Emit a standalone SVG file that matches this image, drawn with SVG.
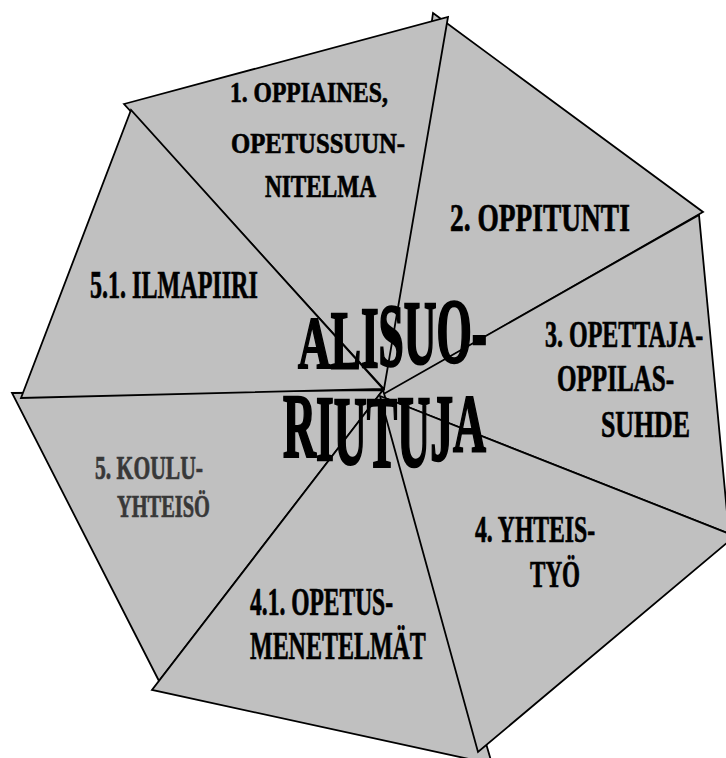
<svg xmlns="http://www.w3.org/2000/svg" width="726" height="758" viewBox="0 0 726 758">
<style>
.seg{fill:#c0c0c0;stroke:#000;stroke-width:1.8;stroke-linejoin:miter}
.lb{font-family:"Liberation Serif","DejaVu Serif",serif;font-weight:bold;fill:#000;stroke:#000;stroke-width:0.7}
.gr{fill:#383838;stroke:#383838}
.big{font-family:"Liberation Serif","DejaVu Serif",serif;font-weight:bold;fill:#000;stroke:#000;stroke-width:2.6}
</style>
<rect width="726" height="758" fill="#fff"/>
<g id="connectors"/>
<g id="n2"><polygon class="seg" points="433,13 703,212 380,397"/>
<text class="lb" font-size="40" transform="translate(450,231) scale(0.686,1)">2. OPPITUNTI</text></g>
<g id="n1"><polygon class="seg" points="124,104 448,17 384,389"/>
<text class="lb" font-size="30" transform="translate(230,102) scale(0.786,1)">1. OPPIAINES,</text>
<text class="lb" font-size="30" transform="translate(231,153) scale(0.822,1)">OPETUSSUUN-</text>
<text class="lb" font-size="31" transform="translate(265,197) scale(0.749,1)">NITELMA</text></g>
<g id="n3"><polygon class="seg" points="699,215 729,533.6 380,396"/>
<text class="lb" font-size="37" transform="translate(545,347) scale(0.649,1)">3. OPETTAJA-</text>
<text class="lb" font-size="37" transform="translate(557,391) scale(0.678,1)">OPPILAS-</text>
<text class="lb" font-size="37" transform="translate(601,437) scale(0.698,1)">SUHDE</text></g>
<g id="n5"><polygon class="seg" points="383,390 12,393 159,681"/>
<text class="lb gr" font-size="33" transform="translate(95,479) scale(0.655,1)">5. KOULU-</text>
<text class="lb gr" font-size="32" transform="translate(117,517) scale(0.638,1)">YHTEISÖ</text></g>
<g id="n41"><polygon class="seg" points="383,390 492,764 152,690"/>
<text class="lb" font-size="39" transform="translate(250,615) scale(0.603,1)">4.1. OPETUS-</text>
<text class="lb" font-size="39" transform="translate(250,659) scale(0.615,1)">MENETELMÄT</text></g>
<g id="n4"><polygon class="seg" points="380,396 735,536 478,752"/>
<text class="lb" font-size="37" transform="translate(475,542) scale(0.640,1)">4. YHTEIS-</text>
<text class="lb" font-size="37" transform="translate(530,587) scale(0.624,1)">TYÖ</text></g>
<g id="n51"><polygon class="seg" points="131,110 21,398 383,389"/>
<text class="lb" font-size="40" transform="translate(90,298) scale(0.602,1)">5.1. ILMAPIIRI</text></g>
<g id="center">
<text class="big" font-size="92" transform="translate(298,368) scale(0.493,0.80)">A</text>
<text class="big" font-size="92" transform="translate(330.7,368) scale(0.493,0.89)">L</text>
<text class="big" font-size="92" transform="translate(360.9,367) scale(0.493,0.94)">I</text>
<text class="big" font-size="92" transform="translate(378.5,365) scale(0.493,0.97)">S</text>
<text class="big" font-size="92" transform="translate(403.7,364) scale(0.493,1.0)">U</text>
<text class="big" font-size="92" transform="translate(436.4,362) scale(0.493,0.98)">O</text>
<text class="big" font-size="92" transform="translate(471.7,362) scale(0.493,0.98)">-</text>
<text class="big" font-size="98" transform="translate(283,457) scale(0.466,0.92)">R</text>
<text class="big" font-size="98" transform="translate(316,460) scale(0.466,0.95)">I</text>
<text class="big" font-size="98" transform="translate(333.8,464) scale(0.466,1.0)">U</text>
<text class="big" font-size="98" transform="translate(366.8,467) scale(0.466,1.04)">T</text>
<text class="big" font-size="98" transform="translate(397.3,466) scale(0.466,1.03)">U</text>
<text class="big" font-size="98" transform="translate(430.3,461) scale(0.466,0.97)">J</text>
<text class="big" font-size="98" transform="translate(453.1,451) scale(0.466,0.85)">A</text>
</g>
</svg>
